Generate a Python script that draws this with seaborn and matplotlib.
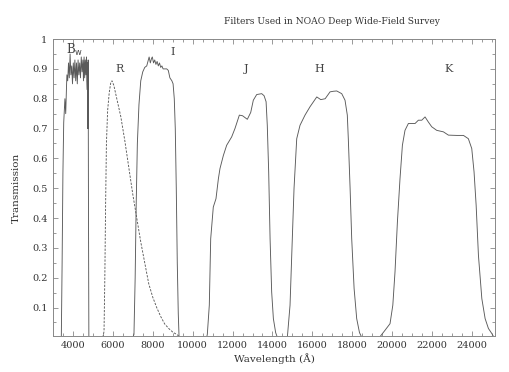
import matplotlib
matplotlib.use("Agg")
import matplotlib.pyplot as plt
import matplotlib.ticker as mticker
import pandas as pd
import seaborn as sns

# Filter transmission curves (wavelength in Angstrom)
bw_wave = [3420, 3460, 3500, 3540, 3600, 3640, 3680, 3700, 3740, 3780, 3820, 3860, 3900,
           3940, 3980, 4020, 4060, 4100, 4140, 4180, 4220, 4260, 4300, 4340, 4380,
           4420, 4460, 4500, 4530, 4560, 4590, 4620, 4650, 4680, 4700, 4720, 4735,
           4750, 4765, 4780, 4800]
bw_trans = [0.0, 0.25, 0.55, 0.72, 0.80, 0.75, 0.84, 0.88, 0.86, 0.92, 0.87, 0.95, 0.88,
            0.91, 0.85, 0.92, 0.87, 0.93, 0.86, 0.92, 0.85, 0.93, 0.88, 0.92, 0.87,
            0.94, 0.89, 0.93, 0.86, 0.94, 0.87, 0.93, 0.88, 0.94, 0.86, 0.83, 0.92,
            0.70, 0.93, 0.45, 0.0]

r_wave = [5500, 5560, 5600, 5640, 5680, 5740, 5820, 5900, 5960, 6050, 6200, 6400, 6600,
          6800, 7000, 7200, 7400, 7600, 7800, 8000, 8200, 8400, 8600, 8800, 9000,
          9200, 9300]
r_trans = [0.0, 0.02, 0.2, 0.45, 0.65, 0.76, 0.82, 0.855, 0.86, 0.845, 0.80, 0.74, 0.66,
           0.57, 0.48, 0.40, 0.32, 0.25, 0.18, 0.135, 0.10, 0.07, 0.045, 0.03, 0.018,
           0.01, 0.005]

i_wave = [7000, 7060, 7120, 7170, 7230, 7310, 7400, 7500, 7600, 7700, 7780, 7820, 7880,
          7940, 7980, 8040, 8100, 8160, 8220, 8280, 8340, 8400, 8460, 8520, 8600,
          8700, 8780, 8860, 8960, 9020, 9080, 9130, 9180, 9230, 9280, 9320]
i_trans = [0.0, 0.01, 0.2, 0.44, 0.65, 0.78, 0.86, 0.89, 0.905, 0.91, 0.93, 0.94, 0.92,
           0.935, 0.94, 0.92, 0.93, 0.915, 0.925, 0.91, 0.92, 0.905, 0.91, 0.90, 0.90,
           0.90, 0.895, 0.87, 0.86, 0.85, 0.80, 0.70, 0.50, 0.25, 0.08, 0.0]

j_wave = [10700, 10735, 10835, 10905, 11035, 11170, 11290, 11370, 11540, 11705, 11955,
          12120, 12340, 12500, 12740, 12910, 13040, 13210, 13460, 13580, 13680, 13740,
          13810, 13880, 13960, 14045, 14160, 14245]
j_trans = [0.0, 0.01, 0.108, 0.331, 0.437, 0.465, 0.532, 0.566, 0.61, 0.644, 0.672,
           0.70, 0.745, 0.743, 0.731, 0.754, 0.795, 0.814, 0.817, 0.81, 0.79, 0.711,
           0.555, 0.331, 0.152, 0.063, 0.016, 0.0]

h_wave = [14745, 14880, 14965, 15080, 15215, 15380, 15630, 15880, 16220, 16420, 16640,
          16885, 17050, 17220, 17470, 17635, 17750, 17800, 17890, 17970, 18090, 18220,
          18360, 18475]
h_trans = [0.0, 0.108, 0.275, 0.499, 0.666, 0.711, 0.745, 0.773, 0.806, 0.797, 0.80,
           0.823, 0.825, 0.826, 0.817, 0.795, 0.745, 0.666, 0.499, 0.331, 0.164, 0.063,
           0.016, 0.0]

k_wave = [19360, 19640, 19890, 20030, 20140, 20260, 20390, 20510, 20640, 20810, 21145,
          21310, 21480, 21645, 21810, 21980, 22230, 22565, 22815, 23235, 23570, 23815,
          23985, 24100, 24205, 24320, 24490, 24655, 24820, 24990, 25100]
k_trans = [0.0, 0.024, 0.046, 0.108, 0.22, 0.387, 0.532, 0.644, 0.694, 0.717, 0.717,
           0.728, 0.728, 0.739, 0.722, 0.706, 0.694, 0.689, 0.678, 0.677, 0.677, 0.666,
           0.633, 0.555, 0.443, 0.275, 0.13, 0.063, 0.03, 0.013, 0.0]

filter_names = ["R", "I", "J", "H", "K"]
label_wave = [6360, 9015, 12680, 16330, 22800]
label_trans = [0.898, 0.958, 0.898, 0.898, 0.898]

sns.set_style("ticks")
plt.rcParams["font.family"] = ["DejaVu Serif"]

fig = plt.figure(figsize=(5.09, 3.72), dpi=100)
ax = fig.add_axes([0.104, 0.097, 0.8685, 0.798])

line_color = "#5a5a5a"
curves = [(bw_wave, bw_trans, "-"), (r_wave, r_trans, "--"), (i_wave, i_trans, "-"),
          (j_wave, j_trans, "-"), (h_wave, h_trans, "-"), (k_wave, k_trans, "-")]
for wave, trans, ls in curves:
    df = pd.DataFrame({"wave": wave, "trans": trans})
    sns.lineplot(data=df, x="wave", y="trans", ax=ax, sort=False, estimator=None,
                 color=line_color, linewidth=0.65, linestyle=ls)
ax.lines[1].set_dashes([2.5, 1.5])

ax.set_xlim(3000, 25150)
ax.set_ylim(0.005, 1.0)

ax.xaxis.set_major_locator(mticker.MultipleLocator(2000))
ax.xaxis.set_minor_locator(mticker.MultipleLocator(500))
ax.yaxis.set_major_locator(mticker.MultipleLocator(0.1))
ax.yaxis.set_minor_locator(mticker.MultipleLocator(0.05))
ax.yaxis.set_major_formatter(mticker.FuncFormatter(lambda v, p: "%g" % round(v, 2)))

ax.tick_params(which="both", direction="in", top=True, right=True, color="#888888",
               labelsize=7, labelcolor="#333333", width=0.6)
ax.tick_params(which="major", length=3.5, pad=4)
ax.tick_params(which="minor", length=2)
for s in ax.spines.values():
    s.set_color("#888888")
    s.set_linewidth(0.7)

ax.set_xlabel("Wavelength (Å)", fontsize=7.5, color="#333333", labelpad=2)
ax.set_ylabel("Transmission", fontsize=7.5, color="#333333", labelpad=8)

# filter labels
ax.text(4100, 0.965, r"B$_{\rm w}$", fontsize=8.5, color="#444444", ha="center", va="center")
for name, xw, yt in zip(filter_names, label_wave, label_trans):
    ax.text(xw, yt, name, fontsize=8, color="#444444", ha="center", va="center")

fig.text(0.652, 0.941, "Filters Used in NOAO Deep Wide-Field Survey", fontsize=6.6,
         color="#333333", ha="center", va="center")

fig.savefig("out.png", dpi=100)
